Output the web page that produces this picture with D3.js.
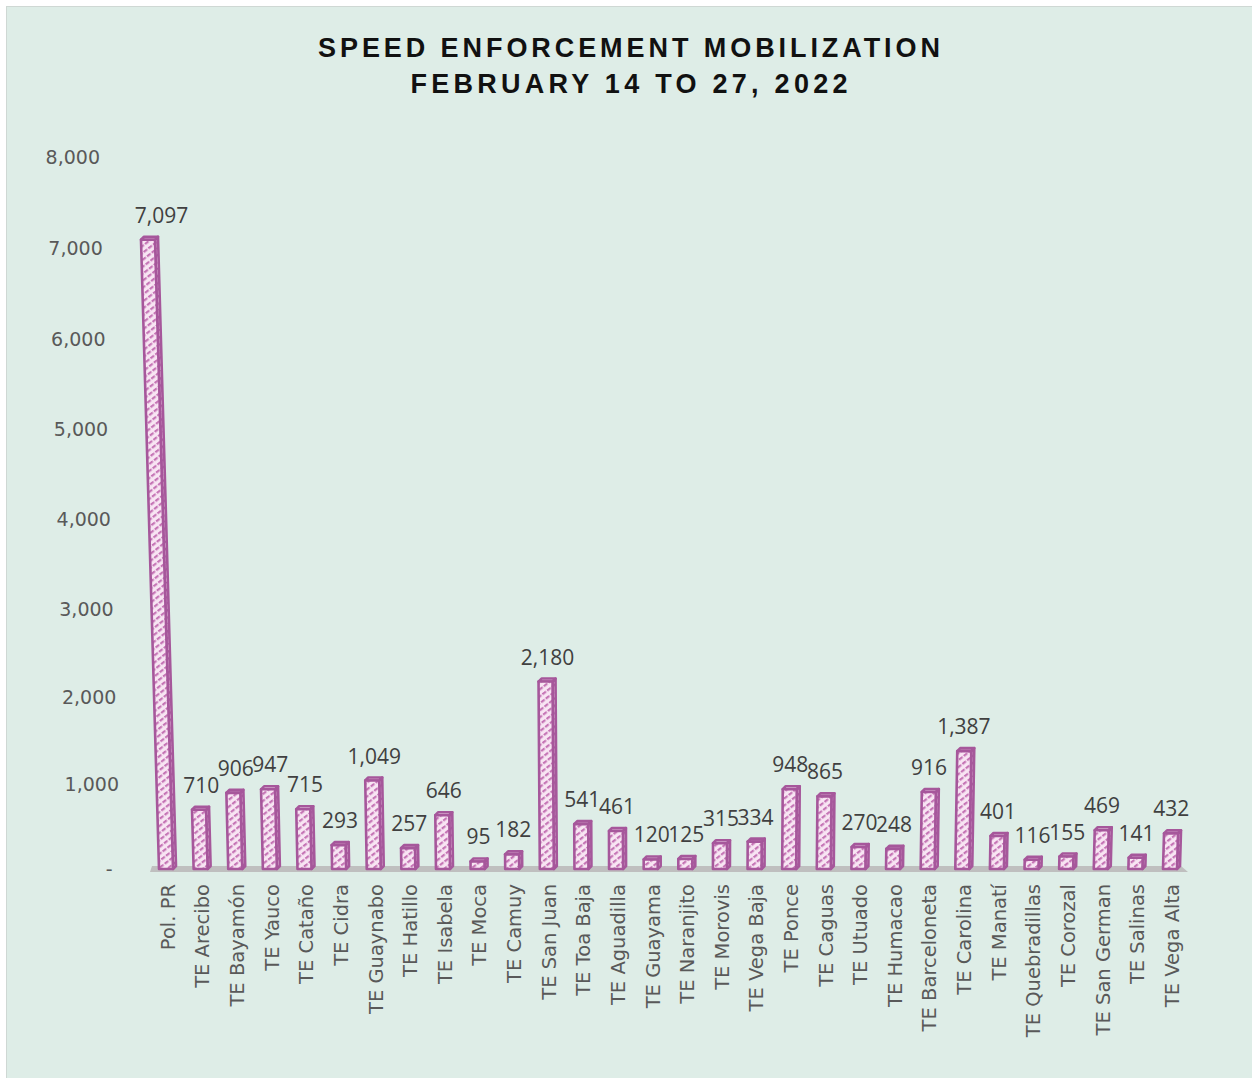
<!DOCTYPE html>
<html><head><meta charset="utf-8">
<script src="https://cdn.jsdelivr.net/npm/d3@7"></script>
<style>html,body{margin:0;padding:0;background:#fff;}svg{display:block;}</style>
</head><body>
<svg id="c" width="1252" height="1078"></svg>
<script>
const categories = ["Pol. PR","TE Arecibo","TE Bayamón","TE Yauco","TE Cataño","TE Cidra","TE Guaynabo","TE Hatillo","TE Isabela","TE Moca","TE Camuy","TE San Juan","TE Toa Baja","TE Aguadilla","TE Guayama","TE Naranjito","TE Morovis","TE Vega Baja","TE Ponce","TE Caguas","TE Utuado","TE Humacao","TE Barceloneta","TE Carolina","TE Manatí","TE Quebradillas","TE Corozal","TE San German","TE Salinas","TE Vega Alta"];
const values = [7097,710,906,947,715,293,1049,257,646,95,182,2180,541,461,120,125,315,334,948,865,270,248,916,1387,401,116,155,469,141,432];
const tickValues = [0,1000,2000,3000,4000,5000,6000,7000,8000];
const titleLines = ["SPEED ENFORCEMENT MOBILIZATION","FEBRUARY 14 TO 27, 2022"];

const svg = d3.select("#c");
svg.append("rect").attr("x",6).attr("y",6).attr("width",1246).attr("height",1072).attr("fill","#cfd8d4");
svg.append("rect").attr("x",7).attr("y",7).attr("width",1245).attr("height",1071).attr("fill","#deede7");

const defs = svg.append("defs");
function mkPat(id, bg, fg){
  const p = defs.append("pattern").attr("id",id).attr("patternUnits","userSpaceOnUse")
    .attr("width",6).attr("height",5.5).attr("patternTransform","rotate(-38)");
  p.append("rect").attr("width",6).attr("height",5.5).attr("fill",bg);
  p.append("rect").attr("x",0).attr("y",0).attr("width",4.5).attr("height",2.2).attr("fill",fg);
}
mkPat("hatch","#f8e5f3","#c574b5");
mkPat("hatch2","#e6c3de","#ac5f9f");

const y0 = 869;
const y = d3.scalePow().exponent(1.026).domain([0,8000]).range([y0,157.5]);
const x = d3.scalePoint().domain(categories).range([166,1170]);

// title
svg.selectAll("text.title").data(titleLines).join("text")
  .attr("x",629).attr("y",(d,i)=>57+i*36)
  .attr("text-anchor","middle")
  .attr("font-family","'Liberation Sans Narrow', 'Liberation Sans', Arial, sans-serif")
  .attr("font-weight","bold").attr("font-size",27)
  .attr("fill","#111")
  .attr("textLength",(d,i)=>i===0?622:437).attr("lengthAdjust","spacing")
  .text(d=>d);

// y tick labels (perspective-shifted right edge)
svg.selectAll("text.ytick").data(tickValues).join("text")
  .attr("x",d=>{const yy=y(d); return 100 + (yy-158)*0.0303 - (d===0?9:0);})
  .attr("y",d=>y(d)).attr("dy","0.35em")
  .attr("text-anchor","end")
  .attr("font-family","'DejaVu Sans', sans-serif").attr("font-size",19)
  .attr("fill","#595959")
  .text(d=>d===0?"-":d3.format(",")(d));

// floor
svg.append("path")
  .attr("d",`M152,866 L1181,866 L1188,872 L150,872 Z`)
  .attr("fill","#bfbfbf");

const w = 14, dp = 3, cx = 668, k = 5.7e-5;
const bars = svg.append("g");
categories.forEach((c,i)=>{
  const bx = x(c), yt = y(values[i]), h = y0-yt;
  const lean = (bx-cx)*h*k;
  const L = bx-w/2, R = bx+w/2;
  const g = bars.append("g").attr("stroke","#a6579b").attr("stroke-width",2.6).attr("stroke-linejoin","round");
  g.append("path").attr("d",`M${R},${y0} L${R+dp},${y0-dp} L${R+lean+dp},${yt-dp} L${R+lean},${yt} Z`).attr("fill","url(#hatch2)");
  g.append("path").attr("d",`M${L+lean},${yt} L${R+lean},${yt} L${R+lean+dp},${yt-dp} L${L+lean+dp},${yt-dp} Z`).attr("fill","#ead0e4");
  g.append("path").attr("d",`M${L},${y0} L${R},${y0} L${R+lean},${yt} L${L+lean},${yt} Z`).attr("fill","url(#hatch)");
  svg.append("text").attr("x",bx+lean*0.3+1).attr("y",yt-17)
    .attr("text-anchor","middle")
    .attr("font-family","'Open Sans', sans-serif").attr("font-size",21)
    .attr("fill","#404040")
    .text(d3.format(",")(values[i]));
});

// category labels
svg.selectAll("text.cat").data(categories).join("text")
  .attr("transform",d=>`translate(${x(d)+2},884) rotate(-90)`)
  .attr("dy","0.35em")
  .attr("text-anchor","end")
  .attr("font-family","'DejaVu Sans', sans-serif").attr("font-size",19.5)
  .attr("fill","#595959")
  .text(d=>d);
</script>
</body></html>
